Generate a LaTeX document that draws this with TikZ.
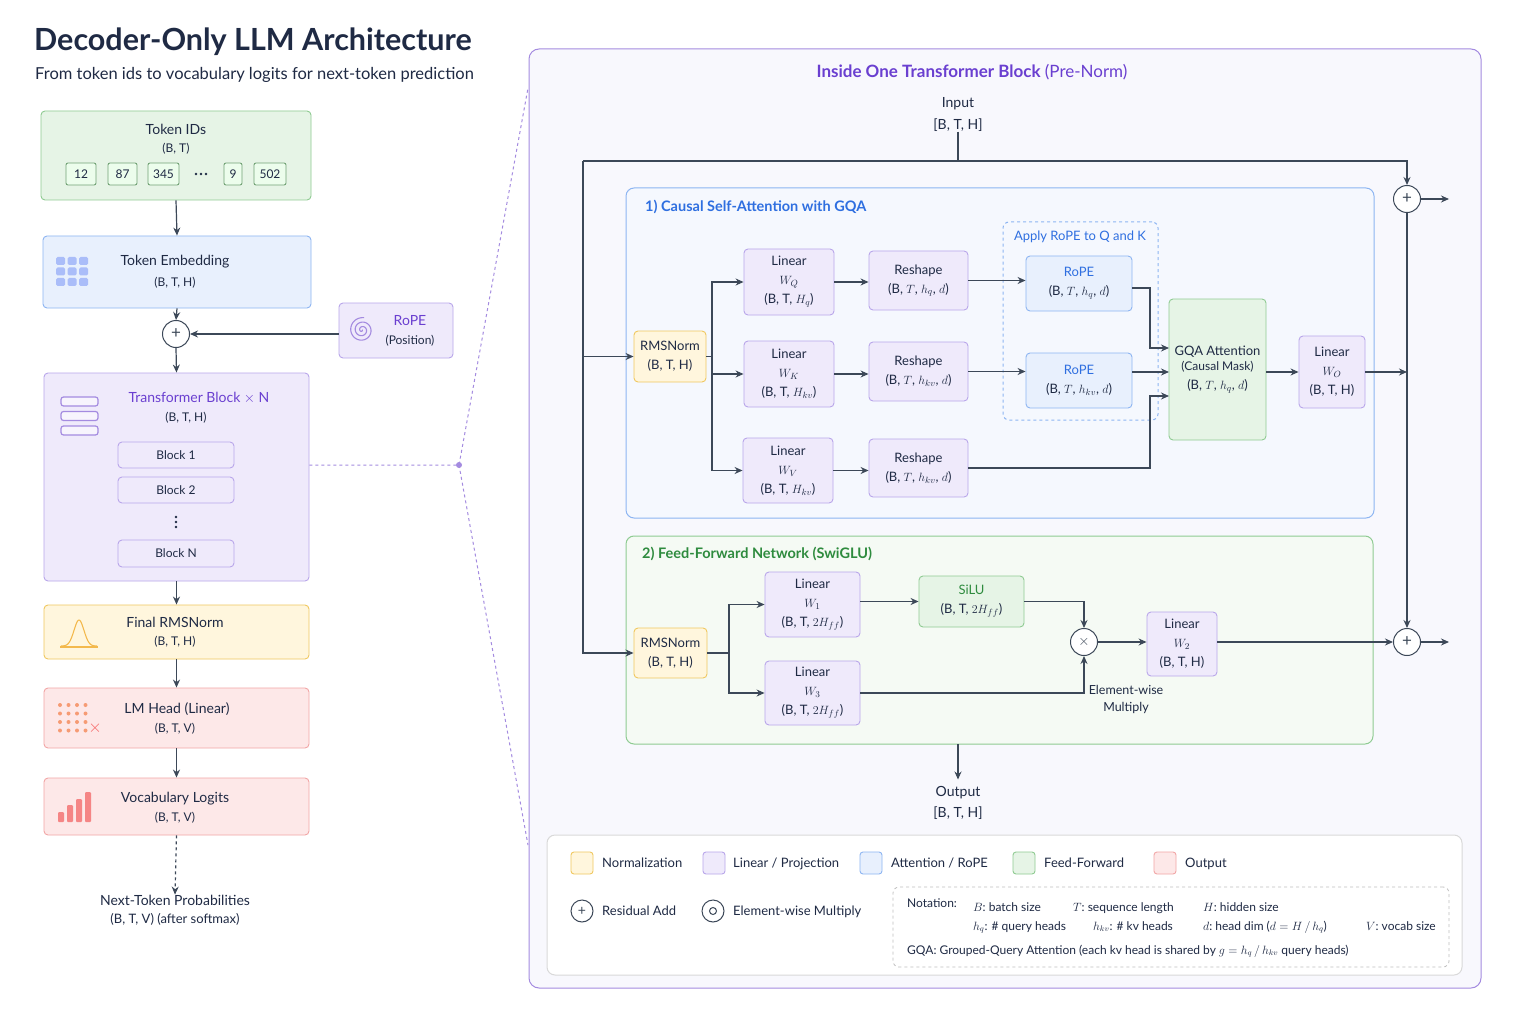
\documentclass[tikz,border=0pt]{standalone}
\usepackage{fontspec}
\setmainfont{Lato}
\usetikzlibrary{arrows.meta,calc}
\definecolor{txtc}{HTML}{1F2A44}
\definecolor{arrc}{HTML}{3C4858}
\definecolor{yfill}{HTML}{FFF6DD}\definecolor{ydraw}{HTML}{F0C860}
\definecolor{pfill}{HTML}{EFEAFB}\definecolor{pdraw}{HTML}{B9A6EA}
\definecolor{bfill}{HTML}{E8F0FD}\definecolor{bdraw}{HTML}{8DB5F2}
\definecolor{gfill}{HTML}{E6F4E6}\definecolor{gdraw}{HTML}{8FCB92}
\definecolor{rfill}{HTML}{FDE8E8}\definecolor{rdraw}{HTML}{F2A6A6}
\definecolor{panelf}{HTML}{F8F8FD}\definecolor{paneld}{HTML}{A48BE0}
\definecolor{purt}{HTML}{6A3FD0}\definecolor{bluet}{HTML}{2F6FE0}\definecolor{greent}{HTML}{2E8B3E}
\definecolor{secf}{HTML}{F5F8FE}\definecolor{ffnf}{HTML}{F5FAF4}
\tikzset{
 box/.style={draw, rounded corners=4pt, line width=0.9pt, align=center, inner sep=0pt, text=txtc,
   font=\fontsize{13}{19}\selectfont},
 ybox/.style={box, fill=yfill, draw=ydraw},
 pbox/.style={box, fill=pfill, draw=pdraw},
 bbox/.style={box, fill=bfill, draw=bdraw},
 gbox/.style={box, fill=gfill, draw=gdraw},
 rbox/.style={box, fill=rfill, draw=rdraw},
 txt/.style={text=txtc, inner sep=0pt, align=center, font=\fontsize{13}{19}\selectfont},
 ltxt/.style={txt, anchor=base west},
 arr/.style={-{Stealth[length=8pt,width=7pt]}, line width=1.2pt, draw=arrc},
 ln/.style={line width=1.2pt, draw=arrc},
 pc/.style={circle, draw=arrc, fill=white, line width=1pt, minimum size=27pt, inner sep=0pt, text=arrc, font=\fontsize{17}{17}\selectfont},
 tk/.style={draw=gdraw!80!black, fill=gfill!70!green!20, line width=0.9pt, rounded corners=2pt, minimum height=22pt, inner sep=0pt, text=txtc, font=\fontsize{12}{13}\selectfont},
 sw/.style={draw, rounded corners=3pt, line width=0.9pt, minimum size=22pt, inner sep=0pt},
}
\begin{document}
\begin{tikzpicture}[x=1pt,y=-1pt]
\path[fill=white] (0,0) rectangle (1536,1024);
\useasboundingbox (0,0) rectangle (1536,1024);
% titles
\node[anchor=west, inner sep=0pt, text=txtc, font=\fontsize{30.5}{32}\selectfont\bfseries] (title) at (34,42) {Decoder-Only LLM Architecture};
\node[anchor=west, inner sep=0pt, text=txtc, font=\fontsize{16.5}{18}\selectfont] (subtitle) at (35,75) {From token ids to vocabulary logits for next-token prediction};
% right panel
\node[draw=paneld, fill=panelf, line width=1pt, rounded corners=10pt, minimum width=952pt, minimum height=939pt, inner sep=0pt] (panel) at (1005,518.5) {};
% left column
\node[gbox, minimum width=270pt, minimum height=89pt] (tok) at (176,155.5) {};
\node[txt, font=\fontsize{14}{15}\selectfont] (tokt) at (176,129) {Token IDs};
\node[txt, font=\fontsize{12}{13}\selectfont] (toks) at (176,149) {(B, T)};
\node[tk, minimum width=30pt] (t1) at (81,174) {12};
\node[tk, minimum width=29pt] (t2) at (122.5,174) {87};
\node[tk, minimum width=31pt] (t3) at (163.5,174) {345};
\foreach \d in {-5,0,5}{\fill[txtc] (201+\d,174) circle (1.4pt);}
\node[tk, minimum width=18pt] (t5) at (233,174) {9};
\node[tk, minimum width=32pt] (t6) at (270,174) {502};
\node[bbox, minimum width=268pt, minimum height=72pt] (emb) at (177,272) {};
\foreach \i in {0,1,2}{\foreach \j in {0,1,2}{
 \fill[bdraw!80!blue!60, rounded corners=1.5pt] (56+\i*11.5,257+\j*10.5) rectangle ++(9,8);}}
\node[txt, font=\fontsize{14}{15}\selectfont] (embt) at (175,262) {Token Embedding};
\node[txt, font=\fontsize{12}{13}\selectfont] (embs) at (175,283) {(B, T, H)};
\node[pc] (p0) at (176,334) {+};
\node[pbox, minimum width=114pt, minimum height=55pt] (rope0) at (396,330.5) {};
\draw[paneld, line width=1.1pt] plot[domain=0:1000, samples=120] ({362+0.0125*\x*cos(\x)},{330+0.0125*\x*sin(\x)});
\node[txt, text=purt, font=\fontsize{14}{15}\selectfont] (rope0t) at (410,321) {RoPE};
\node[txt, font=\fontsize{12}{13}\selectfont] (rope0s) at (410,341) {(Position)};
\node[pbox, minimum width=265pt, minimum height=208pt] (tb) at (176.5,477) {};
\foreach \k in {0,1,2}{\draw[paneld, fill=pfill!50!white, line width=1.2pt, rounded corners=2.5pt] (61,397+\k*14.5) rectangle ++(37,9);}
\node[txt, text=purt, font=\fontsize{14}{15}\selectfont] (tbt) at (199,398) {Transformer Block $\times$ N};
\node[txt, font=\fontsize{12}{13}\selectfont] (tbs) at (186,418) {(B, T, H)};
\node[pbox, minimum width=116pt, minimum height=26pt, font=\fontsize{12}{13}\selectfont] (b1) at (176,455) {Block 1};
\node[pbox, minimum width=116pt, minimum height=26pt, font=\fontsize{12}{13}\selectfont] (b2) at (176,490) {Block 2};
\foreach \d in {-5,0,5}{\fill[txtc] (176,522+\d) circle (1.4pt);}
\node[pbox, minimum width=116pt, minimum height=27pt, font=\fontsize{12}{13}\selectfont] (bn) at (176,553.5) {Block N};
\node[ybox, minimum width=265pt, minimum height=54pt] (frms) at (176.5,632) {};
\draw[ydraw!80!orange, line width=1.1pt] plot[domain=-2.6:2.6, samples=40] ({79+7*\x},{646-26*exp(-\x*\x)});
\draw[ydraw!80!orange, line width=1.1pt] (60,647) -- (98,647);
\node[txt, font=\fontsize{14}{15}\selectfont] (frmst) at (175,622) {Final RMSNorm};
\node[txt, font=\fontsize{12}{13}\selectfont] (frmss) at (175,642) {(B, T, H)};
\node[rbox, minimum width=265pt, minimum height=60pt] (lm) at (176.5,718) {};
\foreach \i in {0,1,2,3}{\foreach \j in {0,1,2,3}{
 \fill[rdraw!70!orange] (60+\i*8.5,705+\j*8.5) circle (2pt);}}
\node[text=rdraw!60!red, inner sep=0pt, font=\fontsize{16}{16}\selectfont] (lmx) at (95,728) {$\times$};
\node[txt, font=\fontsize{14}{15}\selectfont] (lmt) at (177,709) {LM Head (Linear)};
\node[txt, font=\fontsize{12}{13}\selectfont] (lms) at (175,729) {(B, T, V)};
\node[rbox, minimum width=265pt, minimum height=57pt] (vl) at (176.5,806.5) {};
\foreach \x/\h in {58/10,67/17,76/23}{\fill[rdraw!80!red, rounded corners=1pt] (\x,822) rectangle ++(6,-\h);}
\fill[rdraw!80!red, rounded corners=1pt] (85,822) rectangle ++(6,-30);
\node[txt, font=\fontsize{14}{15}\selectfont] (vlt) at (175,799) {Vocabulary Logits};
\node[txt, font=\fontsize{12}{13}\selectfont] (vls) at (175,818) {(B, T, V)};
\node[txt, font=\fontsize{14}{15}\selectfont] (ntp) at (175,900) {Next-Token Probabilities};
\node[txt, font=\fontsize{13}{14}\selectfont] (ntps) at (175,919) {(B, T, V) (after softmax)};
\draw[arr] (tok.south) -- (emb.north);
\draw[arr] (emb.south) -- (p0.north);
\draw[arr] (p0.south) -- (tb.north);
\draw[arr] (rope0.west |- p0) -- (p0.east);
\draw[arr] (tb.south) -- (frms.north);
\draw[arr] (frms.south) -- (lm.north);
\draw[arr] (lm.south) -- (vl.north);
\draw[arr, dashed] (vl.south) -- (ntp.north);
% zoom lines
\coordinate (zd) at (459,465);
\coordinate (zt) at (528,88);
\coordinate (zb) at (528,845);
\draw[paneld, dashed, line width=1pt] (tb.east |- zd) -- (zd) -- (zt);
\draw[paneld, dashed, line width=1pt] (zd) -- (zb);
\fill[paneld] (zd) circle (3pt);
% panel title
\node[inner sep=0pt, text=purt, font=\fontsize{17}{18}\selectfont] (ptitle) at (972,72) {\textbf{Inside One Transformer Block} (Pre-Norm)};
\node[txt, font=\fontsize{14}{15}\selectfont] (inp) at (958,104) {Input};
\node[txt, font=\fontsize{14}{15}\selectfont] (inps) at (958,125) {[B, T, H]};
% sections
\node[draw=bdraw, fill=secf, line width=1pt, rounded corners=8pt, minimum width=748pt, minimum height=330pt, inner sep=0pt] (att) at (1000,353) {};
\node[anchor=west, inner sep=0pt, text=bluet, font=\fontsize{14.5}{15}\selectfont\bfseries] (attt) at (645,207) {1) Causal Self-Attention with GQA};
\node[draw=gdraw, fill=ffnf, line width=1pt, rounded corners=8pt, minimum width=747pt, minimum height=208pt, inner sep=0pt] (ffn) at (999.5,640) {};
\node[anchor=west, inner sep=0pt, text=greent, font=\fontsize{14.5}{15}\selectfont\bfseries] (ffnt) at (642,554) {2) Feed-Forward Network (SwiGLU)};
% attention nodes
\node[draw=bdraw, dashed, line width=1pt, rounded corners=6pt, minimum width=155pt, minimum height=198pt, inner sep=0pt] (rbox) at (1080.5,321) {};
\node[inner sep=0pt, text=bluet, font=\fontsize{13}{14}\selectfont] (rboxt) at (1080,237) {Apply RoPE to Q and K};
\node[ybox, minimum width=72pt, minimum height=51pt] (rms1) at (670,356.5) {RMSNorm\\(B, T, H)};
\node[pbox, minimum width=90pt, minimum height=66pt] (wq) at (789,282) {Linear\\$W_Q$\\(B, T, $H_q$)};
\node[pbox, minimum width=90pt, minimum height=66pt] (wk) at (789,374) {Linear\\$W_K$\\(B, T, $H_{kv}$)};
\node[pbox, minimum width=90pt, minimum height=65pt] (wv) at (788,470.5) {Linear\\$W_V$\\(B, T, $H_{kv}$)};
\node[pbox, minimum width=99pt, minimum height=59pt] (rq) at (918.5,280.5) {Reshape\\(B, $T$, $h_q$, $d$)};
\node[pbox, minimum width=99pt, minimum height=59pt] (rk) at (918.5,371.5) {Reshape\\(B, $T$, $h_{kv}$, $d$)};
\node[pbox, minimum width=99pt, minimum height=58pt] (rv) at (918.5,468) {Reshape\\(B, $T$, $h_{kv}$, $d$)};
\node[bbox, minimum width=106pt, minimum height=55pt] (ropq) at (1079,283.5) {\textcolor{bluet}{RoPE}\\(B, $T$, $h_q$, $d$)};
\node[bbox, minimum width=106pt, minimum height=55pt] (ropk) at (1079,380.5) {\textcolor{bluet}{RoPE}\\(B, $T$, $h_{kv}$, $d$)};
\node[gbox, minimum width=97pt, minimum height=141pt] (gqa) at (1217.5,369.5) {GQA Attention\\[-4pt]{\fontsize{12}{19}\selectfont (Causal Mask)}\\(B, $T$, $h_q$, $d$)};
\node[pbox, minimum width=66pt, minimum height=72pt] (wo) at (1332,372) {Linear\\$W_O$\\(B, T, H)};
\coordinate (br1) at (712,356.5);
\draw[ln] (rms1.east) -- (br1);
\draw[arr] (br1) |- (wq.west);
\draw[arr] (br1) |- (wk.west);
\draw[arr] (br1) |- (wv.west);
\draw[arr] (wq.east) -- (rq.west |- wq.east);
\draw[arr] (wk.east) -- (rk.west |- wk.east);
\draw[arr] (wv.east) -- (rv.west |- wv.east);
\draw[arr] (rq.east) -- (ropq.west |- rq.east);
\draw[arr] (rk.east) -- (ropk.west |- rk.east);
\coordinate (gq) at (1169,348); \coordinate (gk) at (1169,372); \coordinate (gv) at (1169,396);
\draw[arr] (ropq.east |- 0,288) -| (1150,348) -- (gq);
\draw[arr] (ropk.east |- gk) -- (gk);
\draw[arr] (rv.east) -| (1150,396) -- (gv);
\draw[arr] (gqa.east |- wo) -- (wo.west);
% residual paths
\node[pc] (p1) at (1407,199) {+};
\node[pc] (p2) at (1407,642) {+};
\coordinate (topC) at (958,161);
\coordinate (topL) at (583,161);
\coordinate (topR) at (1407,161);
\draw[ln] (inps.south) -- (topC);
\draw[arr] (topL) -- (topR) -- (p1.north);
\draw[arr] (topL) |- (rms1.west);
\draw[arr] (p1.south) -- (p2.north);
\draw[arr] (wo.east) -- (wo.east -| p1);
\coordinate (o1) at (1449,199);
\coordinate (o2) at (1449,642);
\draw[arr] (p1.east) -- (o1);
\draw[arr] (p2.east) -- (o2);
% ffn nodes
\node[ybox, minimum width=73pt, minimum height=50pt] (rms2) at (670.5,653) {RMSNorm\\(B, T, H)};
\draw[arr] (topL) |- (rms2.west);
\node[pbox, minimum width=95pt, minimum height=65pt] (w1) at (812.5,604.5) {Linear\\$W_1$\\(B, T, $2H_{ff}$)};
\node[pbox, minimum width=95pt, minimum height=64pt] (w3) at (812.5,693) {Linear\\$W_3$\\(B, T, $2H_{ff}$)};
\node[gbox, minimum width=105pt, minimum height=51pt] (silu) at (971.5,601.5) {\textcolor{greent}{SiLU}\\(B, T, $2H_{ff}$)};
\node[pc, font=\fontsize{15}{15}\selectfont] (mul) at (1084,642) {$\times$};
\node[pbox, minimum width=70pt, minimum height=64pt] (w2) at (1182,644) {Linear\\$W_2$\\(B, T, H)};
\node[txt, font=\fontsize{12.5}{17}\selectfont] (ewm) at (1126,699) {Element-wise\\Multiply};
\coordinate (br2) at (729,653);
\draw[ln] (rms2.east) -- (br2);
\draw[arr] (br2) |- (w1.west);
\draw[arr] (br2) |- (w3.west);
\draw[arr] (w1.east |- silu) -- (silu.west);
\draw[arr] (silu.east) -| (mul.north);
\draw[arr] (w3.east) -| (mul.south);
\draw[arr] (mul.east) -- (w2.west |- mul);
\draw[arr] (w2.east |- p2) -- (p2.west);
\coordinate (ffnb) at (958,744);
\node[txt, font=\fontsize{14}{15}\selectfont] (outt) at (958,793) {Output};
\node[txt, font=\fontsize{14}{15}\selectfont] (outs) at (958,813) {[B, T, H]};
\draw[arr] (ffnb) -- ($(outt.north)+(0,-7)$);
% legend
\node[draw=black!15, fill=white, line width=1pt, rounded corners=8pt, minimum width=915pt, minimum height=140pt, inner sep=0pt] (leg) at (1004.5,905) {};
\node[sw, fill=yfill, draw=ydraw] (s1) at (582,863) {};
\node[ltxt] (s1t) at (602,867.5) {Normalization};
\node[sw, fill=pfill, draw=pdraw] (s2) at (714,863) {};
\node[ltxt] (s2t) at (733,867.5) {Linear / Projection};
\node[sw, fill=bfill, draw=bdraw] (s3) at (871,863) {};
\node[ltxt] (s3t) at (891,867.5) {Attention / RoPE};
\node[sw, fill=gfill, draw=gdraw] (s4) at (1024,863) {};
\node[ltxt] (s4t) at (1044,867.5) {Feed-Forward};
\node[sw, fill=rfill, draw=rdraw] (s5) at (1165,863) {};
\node[ltxt] (s5t) at (1185,867.5) {Output};
\node[pc, minimum size=22pt, font=\fontsize{14}{14}\selectfont] (lp) at (582,911) {+};
\node[ltxt] (lpt) at (602,915.5) {Residual Add};
\node[pc, minimum size=22pt] (lm2) at (713,911) {};
\draw[arrc, line width=1pt] (lm2) circle (3.5pt);
\node[ltxt] (lmt2) at (733,915.5) {Element-wise Multiply};
\node[draw=black!25, dashed, line width=0.8pt, rounded corners=6pt, minimum width=556pt, minimum height=80pt, inner sep=0pt] (nota) at (1171,927) {};
\node[ltxt, font=\fontsize{12}{14}\selectfont] (n0) at (907,907) {Notation:};
\node[ltxt, font=\fontsize{12}{14}\selectfont] (n1) at (973,911) {$B$:\ batch size};
\node[ltxt, font=\fontsize{12}{14}\selectfont] (n2) at (1073,911) {$T$:\ sequence length};
\node[ltxt, font=\fontsize{12}{14}\selectfont] (n3) at (1203,911) {$H$:\ hidden size};
\node[ltxt, font=\fontsize{12}{14}\selectfont] (n4) at (973,930) {$h_q$: \# query heads};
\node[ltxt, font=\fontsize{12}{14}\selectfont] (n5) at (1093,930) {$h_{kv}$: \# kv heads};
\node[ltxt, font=\fontsize{12}{14}\selectfont] (n6) at (1203,930) {$d$:\ head dim ($d = H\,/\,h_q$)};
\node[ltxt, font=\fontsize{12}{14}\selectfont] (n7) at (1366,930) {$V$:\ vocab size};
\node[ltxt, font=\fontsize{12}{14}\selectfont] (n8) at (907,954) {GQA: Grouped-Query Attention (each kv head is shared by $g = h_q\,/\,h_{kv}$ query heads)};
\end{tikzpicture}
\end{document}
